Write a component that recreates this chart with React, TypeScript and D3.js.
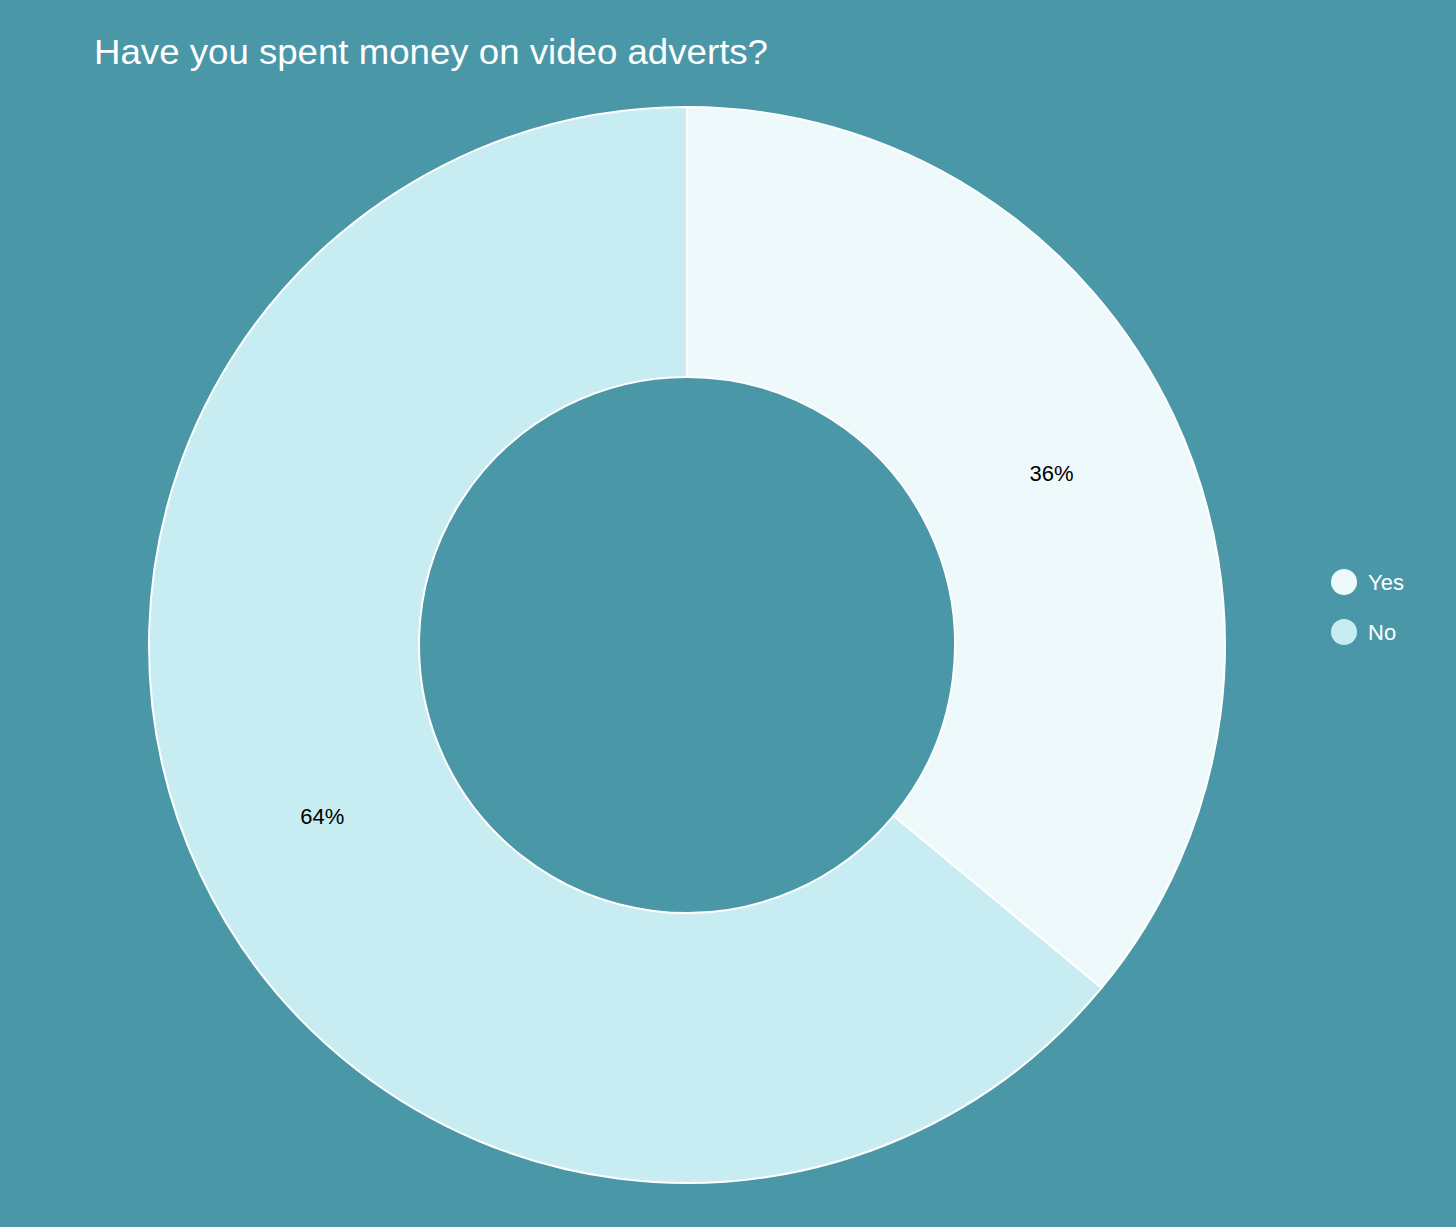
import React from 'react'
import * as d3 from 'd3'

const categories = ['Yes', 'No']
const values = [36, 64]
const colors = ['#eef9fc', '#c7edf3']
const title = 'Have you spent money on video adverts?'

const W = 1456
const H = 1227
const BG = '#4a97a8'

type Slice = { label: string; value: number }

const data: Slice[] = categories.map((c, i) => ({ label: c, value: values[i] }))

const App: React.FC = () => {
  const cx = 687
  const cy = 645
  const outerR = 538
  const innerR = 268

  const pie = d3
    .pie<Slice>()
    .value((d) => d.value)
    .sort(null)

  const arc = d3.arc<d3.PieArcDatum<Slice>>().innerRadius(innerR).outerRadius(outerR)

  const color = d3.scaleOrdinal<string, string>().domain(categories).range(colors)
  const legendY = d3.scalePoint<string>().domain(categories).range([582, 632])

  const arcs = pie(data)
  const total = d3.sum(values)

  return (
    <div style={{ position: 'fixed', left: 0, top: 0, width: W, height: H, background: BG }}>
      <svg width={W} height={H} style={{ display: 'block', fontFamily: 'Liberation Sans, Arial, sans-serif' }}>
        <rect width={W} height={H} fill={BG} />
        <text x={94} y={64} fill="#ffffff" fontSize={35} textLength={674} lengthAdjust="spacingAndGlyphs">
          {title}
        </text>

        <g transform={`translate(${cx},${cy})`}>
          {arcs.map((a) => (
            <path key={a.data.label} d={arc(a) ?? ''} fill={color(a.data.label)} stroke="#ffffff" strokeWidth={2} />
          ))}
          {arcs.map((a) => {
            const [x, y] = arc.centroid(a)
            return (
              <text key={a.data.label} x={x} y={y} dy="0.35em" textAnchor="middle" fontSize={22} fill="#000000">
                {`${Math.round((a.data.value / total) * 100)}%`}
              </text>
            )
          })}
        </g>

        <g>
          {categories.map((c) => (
            <g key={c} transform={`translate(1344,${legendY(c)})`}>
              <circle r={13} fill={color(c)} />
              <text x={24} dy="0.35em" fontSize={22} fill="#ffffff">
                {c}
              </text>
            </g>
          ))}
        </g>
      </svg>
    </div>
  )
}

export default App
